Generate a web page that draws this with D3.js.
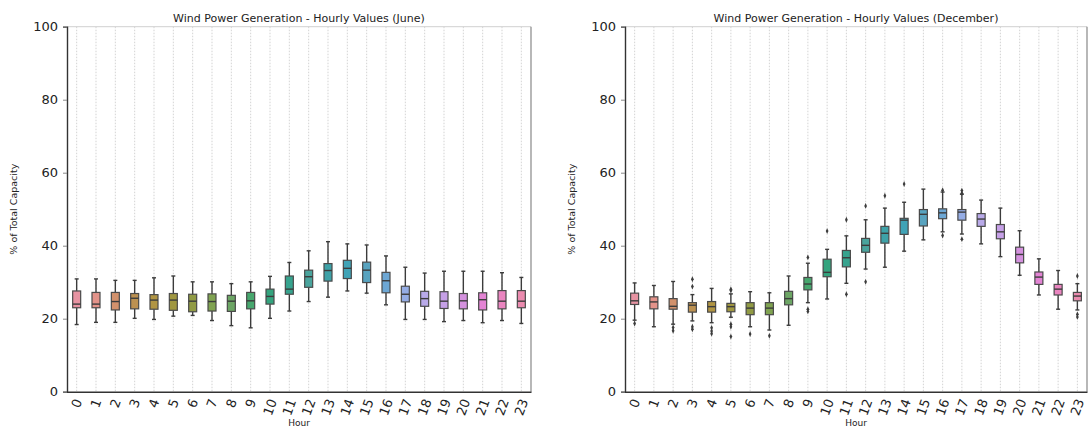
<!DOCTYPE html>
<html>
<head>
<meta charset="utf-8">
<script src="https://cdn.jsdelivr.net/npm/d3@7"></script>
<style>
  body { margin: 0; background: #fff; }
  text { font-family: "DejaVu Sans", sans-serif; fill: #222; }
</style>
</head>
<body>
<svg id="chart"></svg>
<script>
// Data (% of total capacity)
const hours = d3.range(24).map(String);

// June: whisker low, Q1, median, Q3, whisker high
const juneLow  = [18.4, 19.0, 19.0, 20.1, 19.8, 20.7, 20.9, 19.5, 18.1, 17.5, 20.1, 22.1, 24.7, 25.9, 27.6, 27.0, 23.8, 19.8, 19.8, 19.2, 19.5, 18.9, 19.5, 18.7];
const juneQ1   = [23.0, 23.0, 22.4, 22.7, 22.6, 22.3, 21.9, 22.1, 22.0, 22.7, 24.0, 26.7, 28.6, 30.3, 31.0, 29.9, 27.1, 24.6, 23.4, 22.8, 22.7, 22.4, 22.7, 23.0];
const juneMed  = [24.0, 24.0, 24.7, 25.6, 25.1, 25.1, 24.8, 24.7, 24.8, 24.9, 26.1, 28.1, 31.5, 33.2, 33.8, 33.3, 30.4, 26.7, 25.5, 24.8, 24.9, 25.2, 24.8, 24.8];
const juneQ3   = [27.6, 27.2, 27.2, 26.9, 26.6, 26.9, 26.7, 26.8, 26.4, 27.2, 28.1, 31.7, 33.3, 35.1, 36.0, 35.5, 32.7, 28.9, 27.5, 27.4, 26.9, 27.1, 27.7, 27.7];
const juneHigh = [30.9, 30.9, 30.5, 30.5, 31.2, 31.7, 30.1, 30.1, 29.6, 30.1, 31.6, 35.4, 38.6, 41.1, 40.5, 40.2, 37.2, 34.1, 32.5, 33.0, 33.0, 33.0, 32.6, 31.3];
const juneOut  = hours.map(() => []);

// December
const decLow  = [19.6, 17.8, 18.5, 19.4, 18.9, 20.4, 17.8, 16.9, 18.2, 24.4, 25.4, 29.7, 33.6, 34.1, 38.5, 41.6, 43.8, 43.2, 40.5, 37.0, 31.9, 26.5, 22.6, 22.4];
const decQ1   = [23.9, 22.7, 22.6, 21.8, 21.8, 21.9, 21.1, 21.1, 23.8, 27.9, 31.5, 34.2, 38.2, 40.7, 43.1, 45.4, 47.4, 47.0, 45.3, 41.9, 35.3, 29.4, 26.5, 24.9];
const decMed  = [24.9, 24.6, 23.4, 23.7, 23.3, 23.3, 22.9, 22.9, 25.5, 29.5, 32.7, 36.7, 40.1, 43.4, 47.0, 48.6, 49.0, 49.2, 47.3, 43.8, 37.6, 31.4, 28.1, 26.2];
const decQ3   = [27.0, 26.0, 25.5, 24.4, 24.7, 24.2, 24.4, 24.4, 27.5, 31.3, 36.3, 38.7, 42.0, 45.3, 47.5, 49.9, 50.1, 49.9, 48.8, 45.8, 39.6, 32.8, 29.4, 27.2];
const decHigh = [29.8, 29.1, 30.2, 26.6, 28.3, 26.8, 27.4, 27.1, 31.7, 35.2, 39.0, 42.7, 47.1, 50.3, 51.9, 55.5, 54.7, 54.1, 52.5, 50.3, 44.1, 36.4, 33.2, 29.6];
const decOut  = [
  [18.7], [], [17.6, 16.7], [30.8, 28.8, 17.8, 17.1], [17.5, 16.6, 15.9],
  [28.1, 27.7, 18.5, 17.8, 15.1], [15.8], [15.3], [], [36.8, 22.6, 22.0],
  [44.0], [47.1, 26.7], [50.9, 30.1], [53.7], [56.9], [], [55.2, 42.8],
  [55.1, 54.4, 41.8], [], [], [], [], [], [31.7, 21.2, 20.5]
];

const yTicks = [0, 20, 40, 60, 80, 100];

// seaborn husl anchors, 24 hues built between them, then desaturated
const huslAnchors = ['#f77189', '#ce9032', '#97a431', '#32b166', '#36ada4', '#39a7d0', '#a48cf4', '#f561dd'];
const palette = hours.map((h, i) => {
  const k = Math.floor(i / 3), t = (i % 3) / 3;
  const c = d3.hsl(d3.interpolateHcl(huslAnchors[k], huslAnchors[(k + 1) % 8])(t));
  c.s *= 0.72;
  c.l = Math.min(1, c.l * 1.05);
  return c.formatHex();
});

// Setup
const width = 1088, height = 427;
const svg = d3.select('#chart').attr('width', width).attr('height', height);

const y = d3.scaleLinear().domain([0, 100]).range([391.7, 26.7]);

function panel(x0, x1, title, low, q1, med, q3, high, outs) {
  const g = svg.append('g');
  const x = d3.scaleBand().domain(hours).range([x0, x1]);
  const cx = h => x(h) + x.bandwidth() / 2;
  const bw = 8, cap = 4;

  // vertical dotted grid
  g.selectAll('line.grid').data(hours).enter().append('line')
    .attr('x1', cx).attr('x2', cx)
    .attr('y1', y(100)).attr('y2', y(0))
    .attr('stroke', '#c8c8c8').attr('stroke-width', 0.8)
    .attr('stroke-dasharray', '1.5,1.5');

  // frame
  g.append('line').attr('x1', x0).attr('x2', x1).attr('y1', y(100)).attr('y2', y(100))
    .attr('stroke', '#d0d0d0').attr('stroke-width', 1);
  g.append('line').attr('x1', x1).attr('x2', x1).attr('y1', y(100)).attr('y2', y(0))
    .attr('stroke', '#888').attr('stroke-width', 1.2);

  // y axis
  const ya = g.append('g').attr('transform', `translate(${x0},0)`)
    .call(d3.axisLeft(y).tickValues(yTicks).tickSize(4).tickPadding(5));
  ya.select('.domain').attr('stroke', '#333').attr('stroke-width', 1.4);
  ya.selectAll('.tick line').attr('stroke', '#888');
  ya.selectAll('.tick text').style('font-size', '13px').attr('fill', '#222');

  // x axis
  const xa = g.append('g').attr('transform', `translate(0,${y(0)})`)
    .call(d3.axisBottom(x).tickSize(0).tickFormat(''));
  xa.select('.domain').attr('stroke', '#333').attr('stroke-width', 1.4);

  // rotated tick labels, bbox centered on tick
  const th = 70 * Math.PI / 180;
  hours.forEach(h => {
    const t = g.append('text').text(h)
      .style('font-size', '13px')
      .attr('text-anchor', 'middle')
      .attr('dominant-baseline', 'central');
    const L = t.node().getComputedTextLength();
    const bh = L * Math.sin(th) + 10 * Math.cos(th);
    t.attr('transform', `translate(${cx(h)},${y(0) + 6 + bh / 2}) rotate(-70)`);
  });

  // whiskers
  const line = '#3c3c3c';
  g.selectAll('line.wlo').data(hours).enter().append('line')
    .attr('x1', cx).attr('x2', cx)
    .attr('y1', (h, i) => y(low[i])).attr('y2', (h, i) => y(q1[i]))
    .attr('stroke', line).attr('stroke-width', 1.4);
  g.selectAll('line.whi').data(hours).enter().append('line')
    .attr('x1', cx).attr('x2', cx)
    .attr('y1', (h, i) => y(q3[i])).attr('y2', (h, i) => y(high[i]))
    .attr('stroke', line).attr('stroke-width', 1.4);
  // caps
  [low, high].forEach(arr => {
    g.selectAll(null).data(hours).enter().append('line')
      .attr('x1', h => cx(h) - cap / 2).attr('x2', h => cx(h) + cap / 2)
      .attr('y1', (h, i) => y(arr[i])).attr('y2', (h, i) => y(arr[i]))
      .attr('stroke', line).attr('stroke-width', 1.4);
  });

  // boxes
  g.selectAll('rect.box').data(hours).enter().append('rect')
    .attr('x', h => cx(h) - bw / 2).attr('width', bw)
    .attr('y', (h, i) => y(q3[i]))
    .attr('height', (h, i) => y(q1[i]) - y(q3[i]))
    .attr('fill', (h, i) => palette[i])
    .attr('stroke', '#4a4a4a').attr('stroke-width', 1.2);

  // medians
  g.selectAll('line.med').data(hours).enter().append('line')
    .attr('x1', h => cx(h) - bw / 2).attr('x2', h => cx(h) + bw / 2)
    .attr('y1', (h, i) => y(med[i])).attr('y2', (h, i) => y(med[i]))
    .attr('stroke', line).attr('stroke-width', 1.4);

  // outliers (diamonds)
  const pts = [];
  outs.forEach((arr, i) => arr.forEach(v => pts.push({ h: hours[i], v })));
  g.selectAll('path.out').data(pts).enter().append('path')
    .attr('d', d3.symbol(d3.symbolDiamond, 10))
    .attr('transform', d => `translate(${cx(d.h)},${y(d.v)}) scale(0.8,1)`)
    .attr('fill', '#3c3c3c');

  // labels
  g.append('text').attr('x', (x0 + x1) / 2).attr('y', 22)
    .attr('text-anchor', 'middle').style('font-size', '11px').text(title);
  g.append('text').attr('x', (x0 + x1) / 2).attr('y', 426)
    .attr('text-anchor', 'middle').style('font-size', '9px').text('Hour');
  g.append('text')
    .attr('transform', `translate(${x0 - 50},${(y(0) + y(100)) / 2}) rotate(-90)`)
    .attr('text-anchor', 'middle').style('font-size', '9.5px')
    .text('% of Total Capacity');
}

panel(67, 531, 'Wind Power Generation - Hourly Values (June)',
  juneLow, juneQ1, juneMed, juneQ3, juneHigh, juneOut);
panel(625, 1087, 'Wind Power Generation - Hourly Values (December)',
  decLow, decQ1, decMed, decQ3, decHigh, decOut);
</script>
</body>
</html>
